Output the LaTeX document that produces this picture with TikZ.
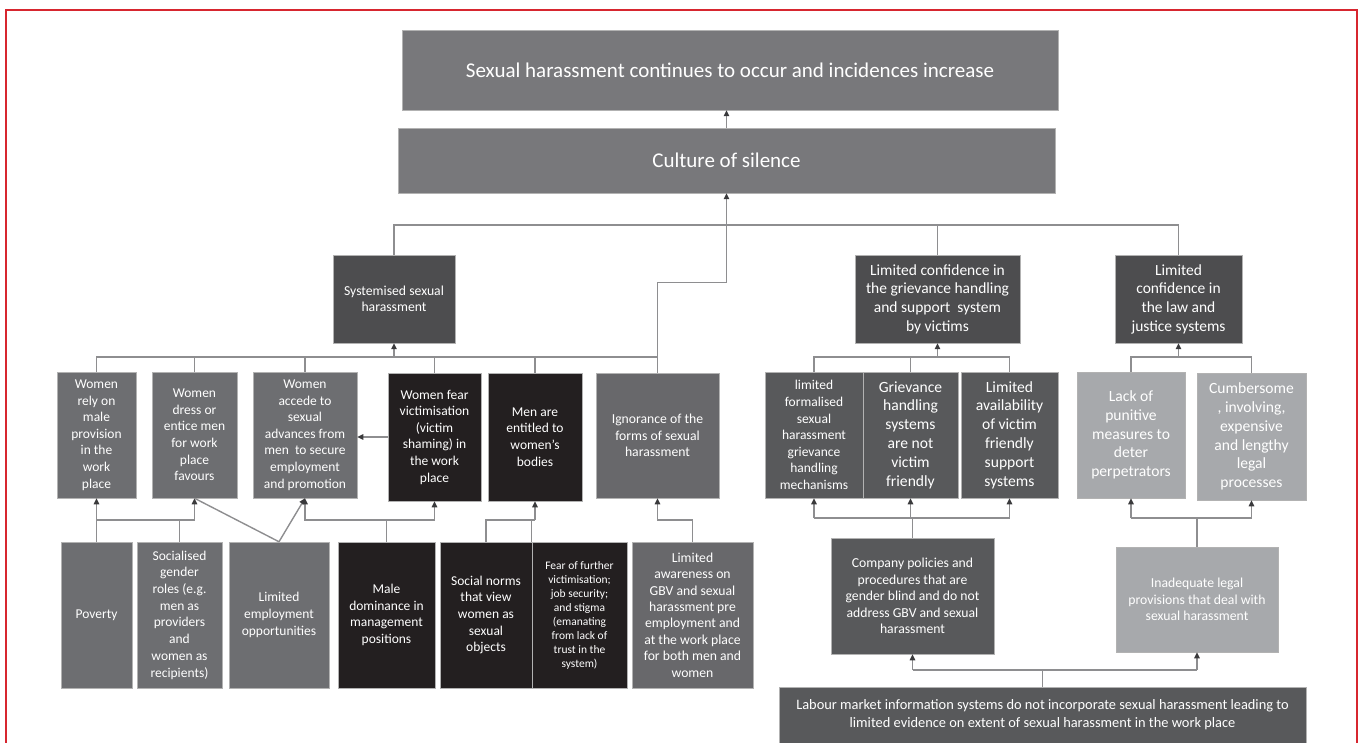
\documentclass[tikz,border=0pt]{standalone}
\usepackage{fontspec}
\setmainfont{Carlito}
\usetikzlibrary{arrows.meta,calc}
\definecolor{cTop}{HTML}{78787B}
\definecolor{cDk}{HTML}{4D4D4F}
\definecolor{cMid}{HTML}{6D6E71}
\definecolor{cIg}{HTML}{68686B}
\definecolor{cBlk}{HTML}{231F20}
\definecolor{cSub}{HTML}{58595B}
\definecolor{cLt}{HTML}{A7A9AC}
\definecolor{ln}{HTML}{8E8E90}
\definecolor{tip}{HTML}{3A3A3C}
\definecolor{frame}{HTML}{D7262F}
\tikzset{
  bx/.style={draw=black!30, line width=0.5pt, text=white, align=center, inner sep=0pt},
  fA/.style={font={\fontsize{21}{25}\selectfont}},
  fB/.style={font={\fontsize{15.5}{18.7}\selectfont}},
  fC/.style={font={\fontsize{13.5}{16.6}\selectfont}},
  fD/.style={font={\fontsize{13.7}{16.4}\selectfont}},
  fE/.style={font={\fontsize{15.6}{18.8}\selectfont}},
  fF/.style={font={\fontsize{11.5}{14}\selectfont}},
  fG/.style={font={\fontsize{13.5}{16.7}\selectfont}},
  fH/.style={font={\fontsize{14.4}{18.2}\selectfont}},
  conn/.style={draw=ln, line width=1.4pt},
  arr/.style={conn, -{Triangle[length=6pt,width=5.5pt,color=tip]}},
  redframe/.style={draw=frame, line width=2.2pt}
}
\newcommand{\mkbox}[8]{\node[bx, fill=#6, #7, minimum width={#4-#2}, minimum height={#5-#3}] (#1) at ({(#2+#4)/2},{(#3+#5)/2}) {#8};}
\begin{document}
\begin{tikzpicture}[x=1pt,y=-1pt]
\useasboundingbox (0,0) rectangle (1363,743);
\draw[redframe] (6,760) -- (6,10) -- (1357,10) -- (1357,760);

% level 0/1
\mkbox{top}{402}{30}{1058}{110}{cTop}{fA}{Sexual harassment continues to occur and incidences increase}
\mkbox{culture}{398}{128}{1055}{193}{cTop}{fA}{Culture of silence}

% level 2
\mkbox{syst}{333}{255}{455}{343}{cDk}{fD}{Systemised sexual\\harassment}
\mkbox{grv}{855}{255}{1020}{343}{cDk}{fB}{Limited confidence in\\the grievance handling\\and support\ \ system\\by victims}
\mkbox{law}{1115}{255}{1242}{343}{cDk}{fB}{Limited\\confidence in\\the law and\\justice systems}

% level 3
\mkbox{rely}{57}{372}{136}{498}{cMid}{fC}{Women\\rely on\\male\\provision\\in the\\work\\place}
\mkbox{dress}{152}{372}{237}{498}{cMid}{fC}{Women\\dress or\\entice men\\for work\\place\\favours}
\mkbox{accede}{253}{372}{357}{498}{cMid}{fC}{Women\\accede to\\sexual\\advances from\\men\ \ to secure\\employment\\and promotion}
\mkbox{fear}{388}{373}{481}{501}{cBlk}{fC}{Women fear\\victimisation\\(victim\\shaming) in\\the work\\place}
\mkbox{entitled}{488}{373}{582}{501}{cBlk}{fC}{Men are\\entitled to\\women's\\bodies}
\mkbox{ignor}{596}{373}{719}{498}{cIg}{fD}{Ignorance of the\\forms of sexual\\harassment}
\mkbox{formal}{765}{372}{863}{498}{cSub}{fC}{limited\\formalised\\sexual\\harassment\\grievance\\handling\\mechanisms}
\mkbox{ghs}{863}{372}{958}{498}{cSub}{fE}{Grievance\\handling\\systems\\are not\\victim\\friendly}
\mkbox{avail}{961}{372}{1058}{498}{cSub}{fE}{Limited\\availability\\of victim\\friendly\\support\\systems}
\mkbox{punit}{1077}{372}{1185}{498}{cLt}{fE}{Lack of\\punitive\\measures to\\deter\\perpetrators}
\mkbox{cumb}{1197}{373}{1306}{500}{cLt}{fE}{Cumbersome\\, involving,\\expensive\\and lengthy\\legal\\processes}

% level 4
\mkbox{poverty}{61}{542}{132}{688}{cMid}{fG}{Poverty}
\mkbox{social}{137}{542}{222}{688}{cMid}{fG}{Socialised\\gender\\roles (e.g.\\men as\\providers\\and\\women as\\recipients)}
\mkbox{limemp}{229}{542}{329}{688}{cMid}{fG}{Limited\\employment\\opportunities}
\mkbox{male}{338}{542}{435}{688}{cBlk}{fC}{Male\\dominance in\\management\\positions}
\mkbox{norms}{440}{542}{532}{688}{cBlk}{fC}{Social norms\\that view\\women as\\sexual\\objects}
\mkbox{fearf}{532}{542}{627}{688}{cBlk}{fF}{Fear of further\\victimisation;\\job security;\\and stigma\\(emanating\\from lack of\\trust in the\\system)}
\mkbox{aware}{632}{542}{753}{688}{cIg}{fD}{Limited\\awareness on\\GBV and sexual\\harassment pre\\employment and\\at the work place\\for both men and\\women}
\mkbox{company}{831}{538}{994}{654}{cSub}{fD}{Company policies and\\procedures that are\\gender blind and do not\\address GBV and sexual\\harassment}
\mkbox{inadeq}{1116}{547}{1278}{652}{cLt}{fD}{Inadequate legal\\provisions that deal with\\sexual harassment}
\mkbox{labour}{779}{687}{1306}{743}{cSub}{fH}{Labour market information systems do not incorporate sexual harassment leading to\\limited evidence on extent of sexual harassment in the work place}

% bus levels
\coordinate (bA) at (0,225);
\coordinate (bB) at (0,357);
\coordinate (bC) at (0,520);
\coordinate (bD) at (0,518);
\coordinate (bE) at (0,670);

% top connectors
\draw[arr] (culture.north) -- (top.south -| culture.north);
\draw[conn] (syst.north) |- (bA -| law.north) -- (law.north);
\draw[conn] (grv.north) -- (grv.north |- bA);
\draw[arr] (ignor.north) -- ++(0,-90) -| (culture.south);

% systemised bus
\draw[conn] (rely.north) |- (bB -| ignor.north);
\foreach \n in {dress,accede,fear,entitled}{\draw[conn] (\n.north) -- (\n.north |- bB);}
\draw[arr] (bB -| syst.south) -- (syst.south);
\draw[arr] (fear.west) -- (accede.east |- fear.west);

% grievance bus
\draw[conn] (formal.north) |- (bB -| avail.north) -- (avail.north);
\draw[conn] (ghs.north) -- (ghs.north |- bB);
\draw[arr] (bB -| grv.south) -- (grv.south);
% law bus
\draw[conn] (punit.north) |- (bB -| cumb.north) -- (cumb.north);
\draw[arr] (bB -| law.south) -- (law.south);

% bottom-left
\draw[arr] (poverty.north) -- (rely.south);
\draw[conn] (social.north) -- (social.north |- bC);
\draw[arr] (poverty.north |- bC) -| (dress.south);
\draw[conn] (limemp.north) -- (dress.south);
\draw[arr] (limemp.north) -- (accede.south);
\draw[conn] (male.north) -- (male.north |- bC);
\draw[arr] (male.north |- bC) -| (accede.south);
\draw[arr] (male.north |- bC) -| (fear.south);
\draw[conn] (norms.north) |- (bC -| entitled.south);
\draw[conn] (fearf.north west) -- (fearf.north west |- bC);
\draw[arr] (bC -| entitled.south) -- (entitled.south);
\draw[arr] (aware.north) |- (bC -| ignor.south) -- (ignor.south);

% bottom-right
\draw[conn] (company.north) -- (company.north |- bD);
\draw[conn] (bD -| formal.south) -- (bD -| avail.south);
\foreach \n in {formal,ghs,avail}{\draw[arr] (bD -| \n.south) -- (\n.south);}
\draw[conn] (inadeq.north) -- (inadeq.north |- bD);
\draw[conn] (bD -| punit.south) -- (bD -| cumb.south);
\foreach \n in {punit,cumb}{\draw[arr] (bD -| \n.south) -- (\n.south);}
\draw[conn] (labour.north) -- (labour.north |- bE);
\draw[conn] (bE -| company.south) -- (bE -| inadeq.south);
\draw[arr] (bE -| company.south) -- (company.south);
\draw[arr] (bE -| inadeq.south) -- (inadeq.south);
\end{tikzpicture}
\end{document}
